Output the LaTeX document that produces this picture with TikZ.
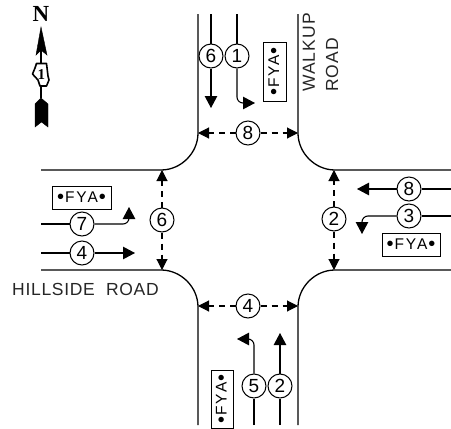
\documentclass[tikz,border=0pt]{standalone}
\usepackage{fontspec}
\setmainfont{Liberation Sans}
\newfontfamily\fyafont[LetterSpace=12]{Liberation Sans}
\newfontfamily\roadfont[LetterSpace=6]{Liberation Sans}
\newfontfamily\hillfont[LetterSpace=4]{Liberation Sans}
\newfontfamily\northfont{Liberation Serif}
\usetikzlibrary{arrows.meta}
\newcommand\fyadot{\kern1pt\raisebox{-1.3pt}{\fontsize{20}{15}\selectfont•}\kern1pt}
\tikzset{
  road/.style={line width=1.3pt},
  mv/.style={line width=1.1pt,-{Triangle[length=12pt,width=12.5pt]}},
  mvplain/.style={line width=1.1pt},
  ped/.style={line width=1.1pt,dash pattern=on 6pt off 5pt,-{Triangle[length=11pt,width=11pt]}},
  phase/.style={draw,circle,line width=1pt,minimum size=24pt,inner sep=0pt,font=\fontsize{19}{19}\selectfont},
  fya/.style={draw,line width=1pt,inner sep=0pt,font=\fyafont\fontsize{15.5}{15}\selectfont},
  roadname/.style={inner sep=0pt,text=black!85,font=\roadfont\fontsize{17.5}{18}\selectfont}
}
\begin{document}
\begin{tikzpicture}[x=1pt,y=-1pt]
\useasboundingbox (0,0) rectangle (451,429);
% roads
\draw[road] (198,14) -- (198,133) .. controls (198,153) and (181,170) .. (161,170) -- (41,170);
\draw[road] (298,14) -- (298,133) .. controls (298,153) and (315,170) .. (335,170) -- (451,170);
\draw[road] (41,270) -- (161,270) .. controls (181,270) and (198,287) .. (198,307) -- (198,425);
\draw[road] (451,270) -- (335,270) .. controls (315,270) and (298,287) .. (298,307) -- (298,425);
% road names
\node (walkup) [roadname,rotate=90,anchor=west] at (309,92) {WALKUP};
\node (roadn) [roadname,rotate=90,anchor=west] at (332,92) {ROAD};
\node (hillside) [roadname,font=\hillfont\fontsize{17.5}{18}\selectfont,anchor=west] at (12,289) {HILLSIDE\ \ ROAD};
% phase circles
\node (c6n) [phase] at (211,56) {6};
\node (c1) [phase] at (237,56) {1};
\node (c8n) [phase] at (248,133) {8};
\node (c6p) [phase] at (162,220) {6};
\node (c2p) [phase] at (334,219) {2};
\node (c4p) [phase] at (248,306) {4};
\node (c7) [phase] at (82,224) {7};
\node (c4) [phase] at (82,253) {4};
\node (c8) [phase] at (409,189) {8};
\node (c3) [phase] at (409,216) {3};
\node (c5) [phase] at (254,386) {5};
\node (c2) [phase] at (280,386) {2};
% FYA signs
\node (f1) [fya,minimum width=59pt,minimum height=23pt,rotate=90] at (274.5,71.5) {\fyadot FYA\fyadot};
\node (f7) [fya,minimum width=59pt,minimum height=23pt] at (81.5,197.5) {\fyadot FYA\fyadot};
\node (f3) [fya,minimum width=58pt,minimum height=23pt] at (411,244.5) {\fyadot FYA\fyadot};
\node (f5) [fya,minimum width=58pt,minimum height=22pt,rotate=90] at (222,399) {\fyadot FYA\fyadot};
% free ends
\coordinate (s6) at (211,14);
\coordinate (e6) at (211,108);
\coordinate (s1) at (237,14);
\coordinate (e1) at (255,103);
\coordinate (s7) at (41,224);
\coordinate (e7) at (129,207);
\coordinate (s4) at (41,253);
\coordinate (e4) at (135,253);
\coordinate (s8) at (451,189);
\coordinate (e8) at (357,189);
\coordinate (s3) at (451,216);
\coordinate (e3) at (362,234);
\coordinate (s5) at (254,425);
\coordinate (e5) at (237,339);
\coordinate (s2) at (280,425);
\coordinate (e2) at (280,333);
% movements
\draw[mvplain] (s6) -- (c6n);
\draw[mv] (c6n) -- (e6);
\draw[mvplain] (s1) -- (c1);
\draw[mv,rounded corners=6pt] (c1) |- (e1);
\draw[mvplain] (s7) -- (c7);
\draw[mv,rounded corners=6pt] (c7) -| (e7);
\draw[mvplain] (s4) -- (c4);
\draw[mv] (c4) -- (e4);
\draw[mvplain] (s8) -- (c8);
\draw[mv] (c8) -- (e8);
\draw[mvplain] (s3) -- (c3);
\draw[mv,rounded corners=6pt] (c3) -| (e3);
\draw[mvplain] (s5) -- (c5);
\draw[mv,rounded corners=6pt] (c5) |- (e5);
\draw[mvplain] (s2) -- (c2);
\draw[mv] (c2) -- (e2);
% crossings
\coordinate (p8l) at (198,133);
\coordinate (p8r) at (298,133);
\coordinate (p6t) at (162,170);
\coordinate (p6b) at (162,270);
\coordinate (p2t) at (334,170);
\coordinate (p2b) at (334,270);
\coordinate (p4l) at (198,306);
\coordinate (p4r) at (298,306);
\draw[ped] (c8n) -- (p8l);
\draw[ped] (c8n) -- (p8r);
\draw[ped] (c6p) -- (p6t);
\draw[ped] (c6p) -- (p6b);
\draw[ped] (c2p) -- (p2t);
\draw[ped] (c2p) -- (p2b);
\draw[ped] (c4p) -- (p4l);
\draw[ped] (c4p) -- (p4r);
% north arrow
\node (north) [inner sep=0pt,font=\northfont\bfseries\fontsize{23}{23}\selectfont] at (41,14) {N};
\coordinate (ntip) at (41,27);
\coordinate (nbase) at (41,50);
\coordinate (nfeather) at (41,98);
\draw[fill=black] (ntip) -- (47,55) -- (nbase) -- (36,55) -- cycle;
\draw[line width=1.2pt] (nbase) -- (nfeather);
\draw[fill=black] (nfeather) -- (48,104) -- (48,127) -- (41.5,122) -- (35,127) -- (35,104) -- cycle;
\draw[line width=1.6pt,line join=round,fill=white] (36.5,63.5) -- (46.5,63.5) -- (48,76) -- (49,80) -- (46.5,86) -- (40,86) -- (38,80) -- (32.5,74) -- (35,68) -- cycle;
\node (shield) [inner sep=0pt,font=\northfont\bfseries\fontsize{15}{15}\selectfont] at (41.5,74.5) {1};
\end{tikzpicture}
\end{document}
